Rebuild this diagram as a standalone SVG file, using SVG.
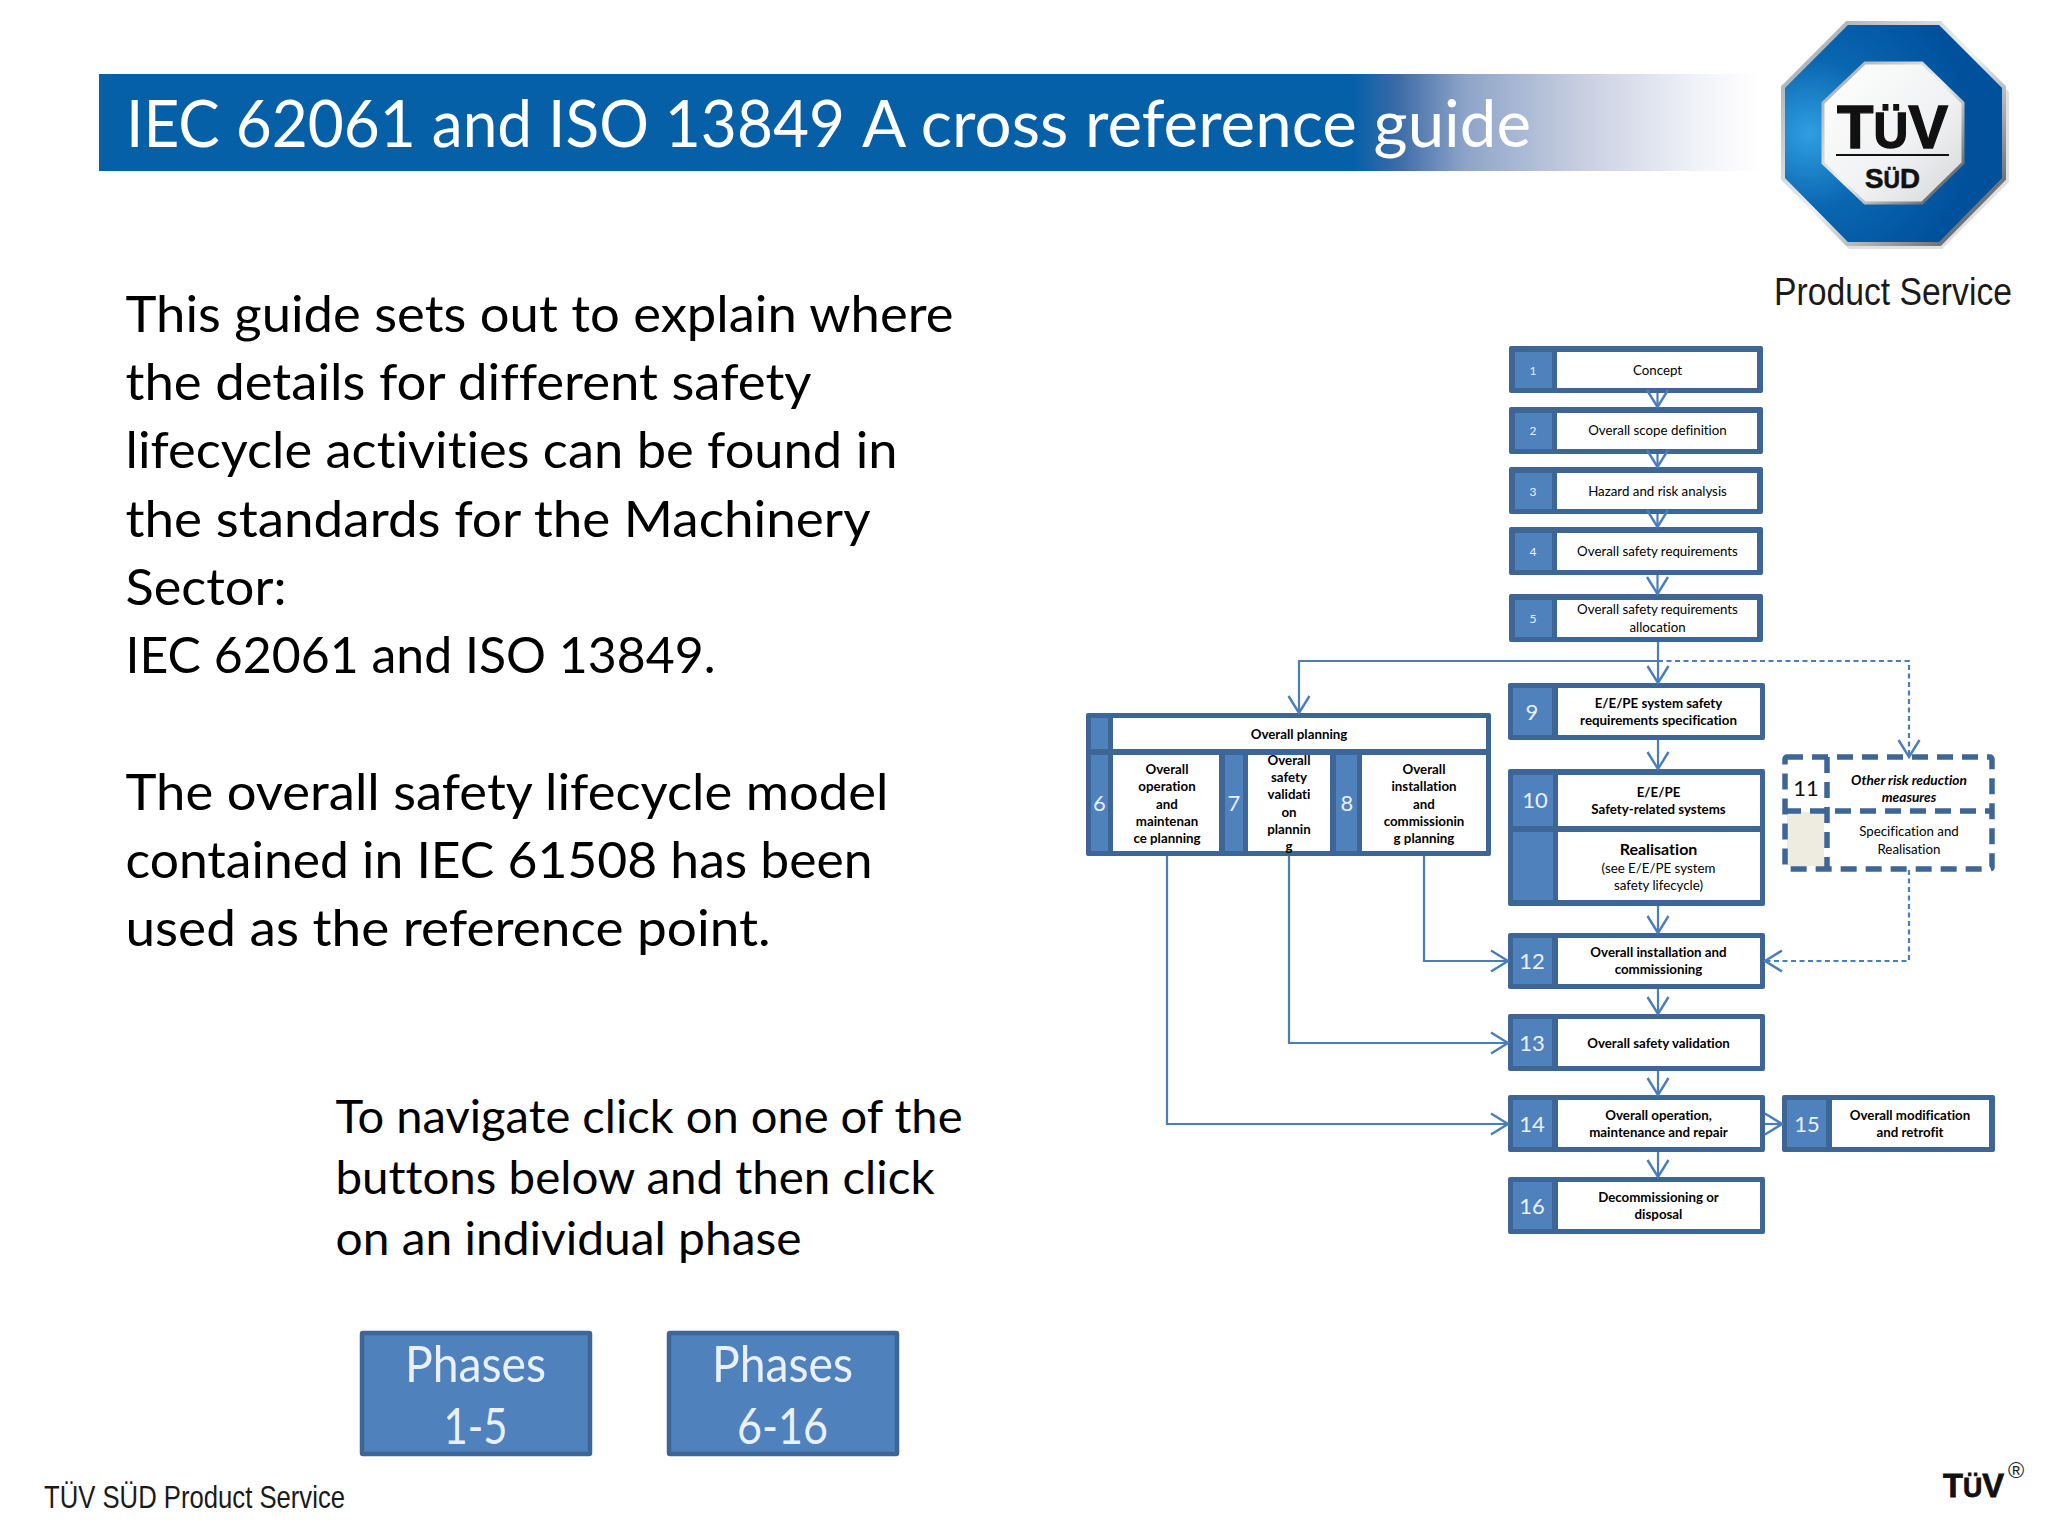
<svg xmlns="http://www.w3.org/2000/svg" width="2048" height="1536" viewBox="0 0 2048 1536">
<defs>
<linearGradient id="banner" x1="0" x2="1" y1="0" y2="0"><stop offset="0" stop-color="#0560a8"/><stop offset="0.755" stop-color="#0560a8"/><stop offset="0.783" stop-color="#3e6ca8"/><stop offset="0.822" stop-color="#8da4c8"/><stop offset="0.893" stop-color="#c8cfe1"/><stop offset="0.964" stop-color="#f2f3f8"/><stop offset="1" stop-color="#ffffff"/></linearGradient>
<radialGradient id="ring" cx="0.12" cy="0.5" r="0.75"><stop offset="0" stop-color="#2f9fe0"/><stop offset="0.45" stop-color="#0a66b0"/><stop offset="1" stop-color="#00509b"/></radialGradient>
<linearGradient id="metal" x1="0" y1="0" x2="1" y2="1"><stop offset="0" stop-color="#9aa2a8"/><stop offset="0.5" stop-color="#eef2f5"/><stop offset="1" stop-color="#3a4248"/></linearGradient>
<linearGradient id="plate" x1="0" y1="0" x2="1" y2="1"><stop offset="0" stop-color="#ffffff"/><stop offset="0.6" stop-color="#f0f1f2"/><stop offset="1" stop-color="#d4d6d8"/></linearGradient>
<marker id="vee" markerUnits="userSpaceOnUse" markerWidth="24" markerHeight="26" refX="19" refY="12" orient="auto"><path d="M2 1.5 L19 12 L2 22.5" fill="none" stroke="#4a7ebb" stroke-width="2.4"/></marker>
</defs>
<style>
text{font-family:"Lato","Liberation Sans",sans-serif;font-variant-ligatures:none}
.body{font-size:50px;fill:#000}
.nav{font-size:46px;fill:#000}
.frame{fill:#3d6595}
.cell{fill:#4f81bd}
.white{fill:#fff}
.lbl{font-size:13.3px;fill:#000;text-anchor:middle}
.b{font-weight:700}
.it{font-weight:700;font-style:italic;font-size:13.7px}
.num{fill:#e9f0f8;text-anchor:middle;font-size:22px}
.sm{font-size:12px}
.con{fill:none;stroke:#4a7ebb;stroke-width:2.2}
.dash{stroke-dasharray:5 3.5}
.ar{font-family:"Liberation Sans",sans-serif;fill:#1a1a1a}
.heavy{font-family:"Liberation Sans",sans-serif;font-weight:700;fill:#111;stroke:#111}
.btn{fill:#e9f0f8;font-size:50px;text-anchor:middle}
</style>
<rect width="2048" height="1536" fill="#fff"/>
<g id="title">
<rect x="99" y="74" width="1661" height="97" fill="url(#banner)"/>
<text y="147" font-size="66" fill="#fff"><tspan x="126" textLength="719" lengthAdjust="spacingAndGlyphs">IEC 62061 and ISO 13849</tspan> <tspan x="862" textLength="669" lengthAdjust="spacingAndGlyphs">A cross reference guide</tspan></text>
</g>
<g id="logo">
<polygon points="1849,26 1942,26 2009,92 2009,182 1942,249 1849,249 1786,182 1786,92" fill="#000" opacity="0.12"/>
<polygon points="1847,23 1940,23 2004,87 2004,179 1940,244 1847,244 1783,179 1783,87" fill="url(#ring)" stroke="url(#metal)" stroke-width="4"/>
<polygon points="1865,63 1922,63 1963,103 1963,163 1922,203 1865,203 1823,163 1823,103" fill="url(#plate)" stroke="url(#metal)" stroke-width="3"/>
<text x="1837" y="148" font-size="62" class="heavy" stroke-width="1.4" textLength="111" lengthAdjust="spacingAndGlyphs">T<tspan font-size="50">Ü</tspan>V</text>
<rect x="1836" y="154" width="113" height="2" fill="#111"/>
<text x="1865" y="188" font-size="28" class="heavy" stroke-width="0.6" textLength="55" lengthAdjust="spacingAndGlyphs">S<tspan font-size="23">Ü</tspan>D</text>
<text x="1774" y="305" font-size="39" class="ar" textLength="238" lengthAdjust="spacingAndGlyphs">Product Service</text>
</g>
<g id="intro">
<text class="body" x="125.5" y="332" textLength="828" lengthAdjust="spacingAndGlyphs">This guide sets out to explain where</text>
<text class="body" x="125.5" y="400" textLength="686" lengthAdjust="spacingAndGlyphs">the details for different safety</text>
<text class="body" x="125.5" y="468" textLength="772" lengthAdjust="spacingAndGlyphs">lifecycle activities can be found in</text>
<text class="body" x="125.5" y="537" textLength="745" lengthAdjust="spacingAndGlyphs">the standards for the Machinery</text>
<text class="body" x="125.5" y="605" textLength="161" lengthAdjust="spacingAndGlyphs">Sector:</text>
<text class="body" x="125.5" y="673" textLength="590" lengthAdjust="spacingAndGlyphs">IEC 62061 and ISO 13849.</text>
<text class="body" x="125.5" y="810" textLength="763" lengthAdjust="spacingAndGlyphs">The overall safety lifecycle model</text>
<text class="body" x="125.5" y="878" textLength="747" lengthAdjust="spacingAndGlyphs">contained in IEC 61508 has been</text>
<text class="body" x="125.5" y="946" textLength="645" lengthAdjust="spacingAndGlyphs">used as the reference point.</text>
</g>
<g id="navigate">
<text class="nav" x="335.5" y="1133" textLength="627" lengthAdjust="spacingAndGlyphs">To navigate click on one of the</text>
<text class="nav" x="335.5" y="1194" textLength="599" lengthAdjust="spacingAndGlyphs">buttons below and then click</text>
<text class="nav" x="335.5" y="1255" textLength="466" lengthAdjust="spacingAndGlyphs">on an individual phase</text>
</g>
<g id="btn-1-5">
<rect x="362" y="1333" width="228" height="121" rx="1" fill="#4f81bd" stroke="#3d6595" stroke-width="4.5"/>
<text class="btn" x="475.5" y="1382" textLength="141" lengthAdjust="spacingAndGlyphs">Phases</text>
<text class="btn" x="475.5" y="1444" textLength="64" lengthAdjust="spacingAndGlyphs">1-5</text>
</g>
<g id="btn-6-16">
<rect x="669" y="1333" width="228" height="121" rx="1" fill="#4f81bd" stroke="#3d6595" stroke-width="4.5"/>
<text class="btn" x="782.5" y="1382" textLength="141" lengthAdjust="spacingAndGlyphs">Phases</text>
<text class="btn" x="782.5" y="1444" textLength="91" lengthAdjust="spacingAndGlyphs">6-16</text>
</g>
<g id="footer">
<text class="ar" x="44" y="1508" font-size="32" fill="#222" textLength="301" lengthAdjust="spacingAndGlyphs">TÜV SÜD Product Service</text>
<text class="heavy" x="1943" y="1497" font-size="33" stroke-width="0.8" textLength="61" lengthAdjust="spacingAndGlyphs">T<tspan font-size="27">Ü</tspan>V</text>
<text class="ar" x="2016" y="1478" font-size="22" text-anchor="middle" fill="#111">®</text>
</g>
<g id="node-1"><rect class="frame" x="1509" y="346" width="254" height="47" rx="2"/><rect class="cell" x="1515" y="352" width="37" height="36"/><rect class="white" x="1557" y="352" width="200" height="36"/><text class="num sm" x="1533" y="375">1</text><text class="lbl" x="1657.5" y="375">Concept</text></g>
<g id="node-2"><rect class="frame" x="1509" y="407" width="254" height="47" rx="2"/><rect class="cell" x="1515" y="413" width="37" height="36"/><rect class="white" x="1557" y="413" width="200" height="36"/><text class="num sm" x="1533" y="435">2</text><text class="lbl" x="1657.5" y="435">Overall scope definition</text></g>
<g id="node-3"><rect class="frame" x="1509" y="467" width="254" height="47" rx="2"/><rect class="cell" x="1515" y="473" width="37" height="36"/><rect class="white" x="1557" y="473" width="200" height="36"/><text class="num sm" x="1533" y="496">3</text><text class="lbl" x="1657.5" y="496">Hazard and risk analysis</text></g>
<g id="node-4"><rect class="frame" x="1509" y="527" width="254" height="48" rx="2"/><rect class="cell" x="1515" y="533" width="37" height="37"/><rect class="white" x="1557" y="533" width="200" height="37"/><text class="num sm" x="1533" y="556">4</text><text class="lbl" x="1657.5" y="556">Overall safety requirements</text></g>
<g id="node-5"><rect class="frame" x="1509" y="594" width="254" height="48" rx="2"/><rect class="cell" x="1515" y="600" width="37" height="37"/><rect class="white" x="1557" y="600" width="200" height="37"/><text class="num sm" x="1533" y="623">5</text><text class="lbl" x="1657.5" y="614">Overall safety requirements</text><text class="lbl" x="1657.5" y="632">allocation</text></g>
<g id="node-6-8">
<rect class="frame" x="1086" y="713" width="405" height="143" rx="2"/>
<rect class="cell" x="1091" y="718" width="17" height="31"/><rect class="white" x="1113" y="718" width="373" height="31"/>
<rect class="cell" x="1091" y="755" width="17" height="96"/><rect class="white" x="1113" y="755" width="106" height="96"/>
<rect class="cell" x="1225" y="755" width="18" height="96"/><rect class="white" x="1248" y="755" width="82" height="96"/>
<rect class="cell" x="1336" y="755" width="21" height="96"/><rect class="white" x="1362" y="755" width="124" height="96"/>
<text class="lbl b" x="1299" y="739">Overall planning</text>
<text class="num" x="1099.5" y="811">6</text><text class="num" x="1234" y="811">7</text><text class="num" x="1347" y="811">8</text>
<text class="lbl b" x="1167" y="774">Overall</text><text class="lbl b" x="1167" y="791">operation</text><text class="lbl b" x="1167" y="809">and</text><text class="lbl b" x="1167" y="826">maintenan</text><text class="lbl b" x="1167" y="843">ce planning</text>
<text class="lbl b" x="1289" y="765">Overall</text><text class="lbl b" x="1289" y="782">safety</text><text class="lbl b" x="1289" y="799">validati</text><text class="lbl b" x="1289" y="817">on</text><text class="lbl b" x="1289" y="834">plannin</text><text class="lbl b" x="1289" y="851">g</text>
<text class="lbl b" x="1424" y="774">Overall</text><text class="lbl b" x="1424" y="791">installation</text><text class="lbl b" x="1424" y="809">and</text><text class="lbl b" x="1424" y="826">commissionin</text><text class="lbl b" x="1424" y="843">g planning</text>
</g>
<g id="node-9"><rect class="frame" x="1508" y="683" width="257" height="57" rx="2"/><rect class="cell" x="1513" y="688" width="39" height="47"/><rect class="white" x="1558" y="688" width="202" height="47"/><text class="num" x="1532" y="720">9</text><text class="lbl b" x="1658.5" y="708">E/E/PE system safety</text><text class="lbl b" x="1658.5" y="725">requirements specification</text></g>
<g id="node-10"><rect class="frame" x="1508" y="769" width="257" height="137" rx="2"/><rect class="cell" x="1513" y="775" width="40" height="51"/><rect class="cell" x="1513" y="832" width="40" height="68"/><rect class="white" x="1558" y="775" width="202" height="51"/><rect class="white" x="1558" y="832" width="202" height="68"/><text class="num" x="1535" y="808">10</text><text class="lbl b" x="1658.5" y="797">E/E/PE</text><text class="lbl b" x="1658.5" y="814">Safety-related systems</text><text class="lbl b" x="1658.5" y="855" style="font-size:16px">Realisation</text><text class="lbl" x="1658.5" y="873">(see E/E/PE system</text><text class="lbl" x="1658.5" y="890">safety lifecycle)</text></g>
<g id="node-11">
<rect x="1787" y="812" width="37" height="54" fill="#eeece1"/>
<g fill="none" stroke="#3d6595" stroke-width="5.5" stroke-dasharray="16 9"><rect x="1785" y="757" width="207" height="112" rx="2"/><path d="M1827 757V869"/><path d="M1785 811H1992"/></g>
<text class="num" x="1806" y="796" style="fill:#111">11</text>
<text class="lbl it" x="1909" y="785">Other risk reduction</text><text class="lbl it" x="1909" y="802">measures</text>
<text class="lbl" x="1909" y="836">Specification and</text><text class="lbl" x="1909" y="854">Realisation</text>
</g>
<g id="node-12"><rect class="frame" x="1508" y="933" width="257" height="56" rx="2"/><rect class="cell" x="1513" y="938" width="39" height="46"/><rect class="white" x="1558" y="938" width="202" height="46"/><text class="num" x="1532" y="969">12</text><text class="lbl b" x="1658.5" y="957">Overall installation and</text><text class="lbl b" x="1658.5" y="974">commissioning</text></g>
<g id="node-13"><rect class="frame" x="1508" y="1014" width="257" height="57" rx="2"/><rect class="cell" x="1513" y="1019" width="39" height="47"/><rect class="white" x="1558" y="1019" width="202" height="47"/><text class="num" x="1532" y="1051">13</text><text class="lbl b" x="1658.5" y="1048">Overall safety validation</text></g>
<g id="node-14"><rect class="frame" x="1508" y="1095" width="257" height="57" rx="2"/><rect class="cell" x="1513" y="1100" width="39" height="47"/><rect class="white" x="1558" y="1100" width="202" height="47"/><text class="num" x="1532" y="1132">14</text><text class="lbl b" x="1658.5" y="1120">Overall operation,</text><text class="lbl b" x="1658.5" y="1137">maintenance and repair</text></g>
<g id="node-15"><rect class="frame" x="1782" y="1095" width="213" height="57" rx="2"/><rect class="cell" x="1787" y="1100" width="39" height="47"/><rect class="white" x="1832" y="1100" width="157" height="47"/><text class="num" x="1807" y="1132">15</text><text class="lbl b" x="1910" y="1120">Overall modification</text><text class="lbl b" x="1910" y="1137">and retrofit</text></g>
<g id="node-16"><rect class="frame" x="1508" y="1177" width="257" height="57" rx="2"/><rect class="cell" x="1513" y="1182" width="39" height="47"/><rect class="white" x="1558" y="1182" width="202" height="47"/><text class="num" x="1532" y="1214">16</text><text class="lbl b" x="1658.5" y="1202">Decommissioning or</text><text class="lbl b" x="1658.5" y="1219">disposal</text></g>
<g id="connectors">
<path class="con" d="M1657.5 393V407" marker-end="url(#vee)"/>
<path class="con" d="M1657.5 454V467" marker-end="url(#vee)"/>
<path class="con" d="M1657.5 514V527" marker-end="url(#vee)"/>
<path class="con" d="M1657.5 575V594" marker-end="url(#vee)"/>
<path class="con" d="M1658 642V683" marker-end="url(#vee)"/>
<path class="con" d="M1658 661H1299V713" marker-end="url(#vee)"/>
<path class="con dash" d="M1658 661H1909V757" marker-end="url(#vee)"/>
<path class="con" d="M1658 740V769" marker-end="url(#vee)"/>
<path class="con" d="M1658 906V933" marker-end="url(#vee)"/>
<path class="con dash" d="M1909 870V961H1765" marker-end="url(#vee)"/>
<path class="con" d="M1658 989V1014" marker-end="url(#vee)"/>
<path class="con" d="M1658 1071V1095" marker-end="url(#vee)"/>
<path class="con" d="M1658 1152V1177" marker-end="url(#vee)"/>
<path class="con" d="M1765 1124H1782" marker-end="url(#vee)"/>
<path class="con" d="M1424 856V961H1508" marker-end="url(#vee)"/>
<path class="con" d="M1289 856V1043H1508" marker-end="url(#vee)"/>
<path class="con" d="M1167 856V1124H1508" marker-end="url(#vee)"/>
</g>
</svg>
